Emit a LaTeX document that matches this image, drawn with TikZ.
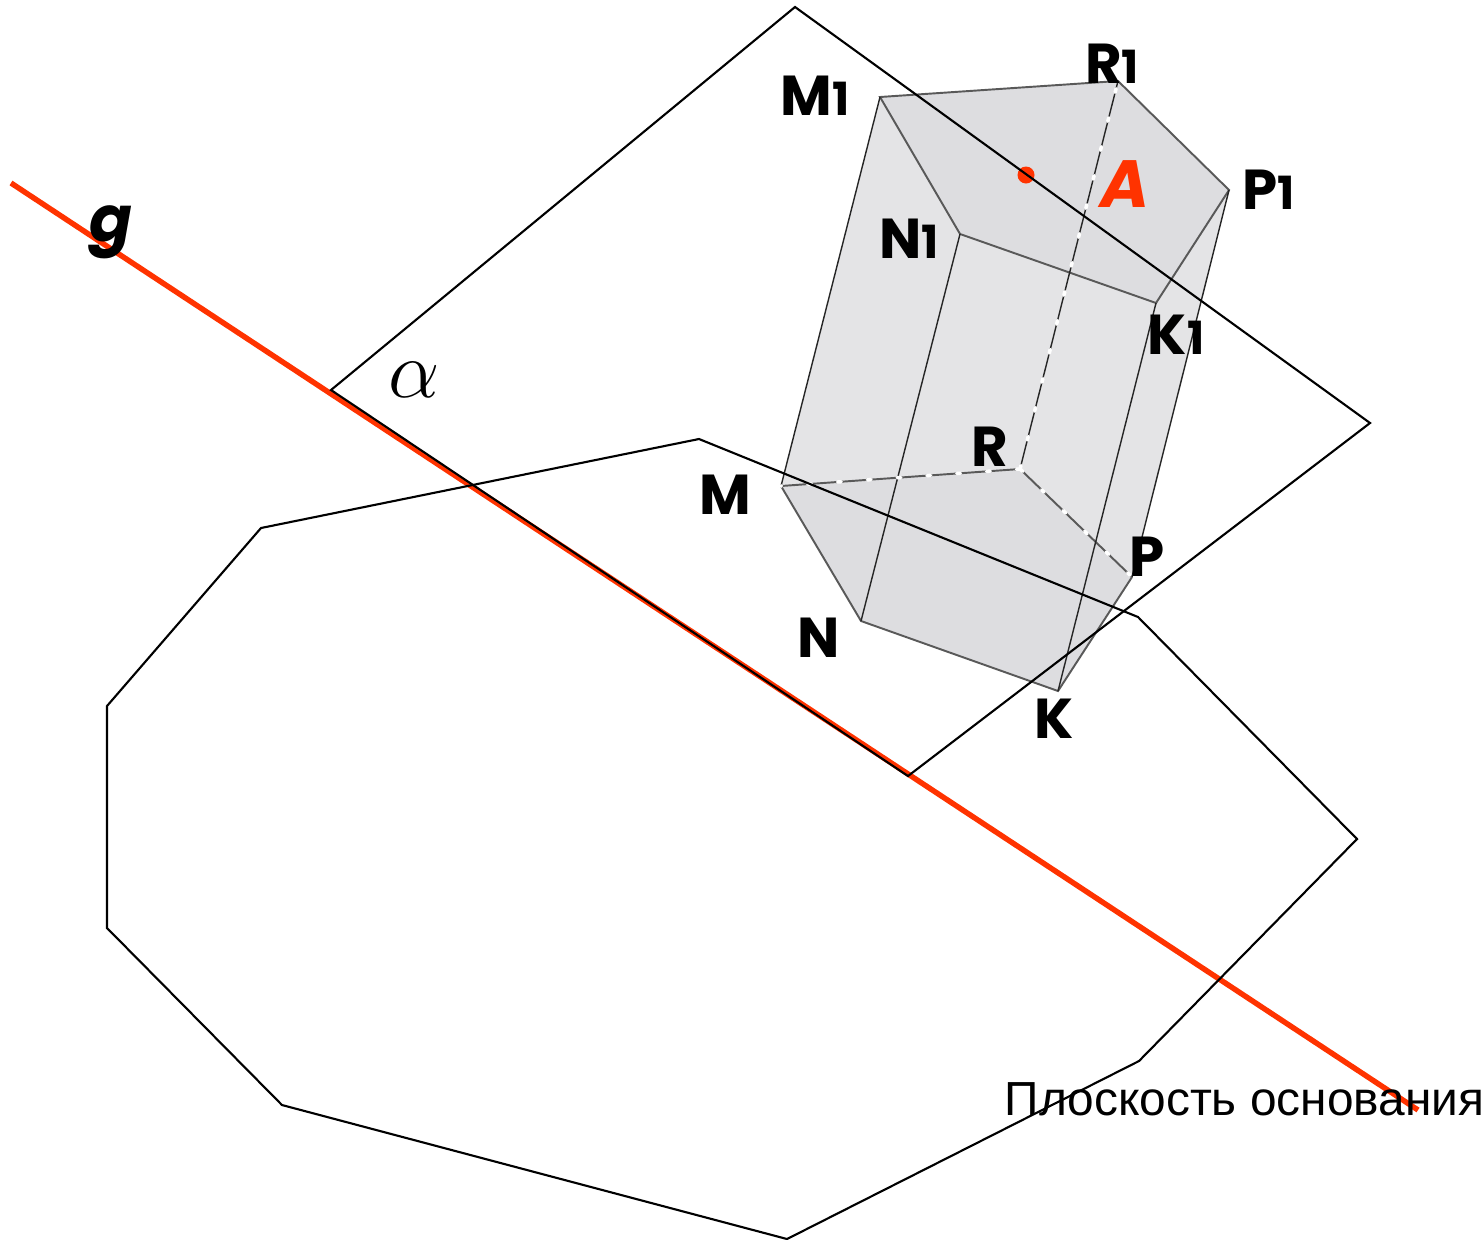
\documentclass[tikz,border=0pt]{standalone}
\usepackage{fontspec}
\setmainfont{Liberation Sans}
\newfontfamily\lblfont{Poppins}
\definecolor{redline}{RGB}{255,51,0}
\definecolor{facedark}{RGB}{221,221,224}
\definecolor{facelight}{RGB}{228,228,230}
\tikzset{
  planeline/.style={black,line width=0.6pt,line join=miter},
  edgeline/.style={black!65,line width=0.55pt},
  sideline/.style={black!85,line width=0.4pt},
  hiddenline/.style={white,line width=1pt,dash pattern=on 1pt off 7.5pt,line cap=round},
  lbl/.style={inner sep=0pt,font=\lblfont\fontsize{16}{16}\selectfont\bfseries},
}
\newcommand{\one}{{\fontsize{13}{13}\selectfont 1}}
\begin{document}
\begin{tikzpicture}[x=0.01cm,y=-0.01cm]
  \useasboundingbox (0,0) rectangle (1483,1239);
  \coordinate (M) at (781,486);
  \coordinate (N) at (861,621);
  \coordinate (K) at (1058,691);
  \coordinate (P) at (1132,577);
  \coordinate (R) at (1020,469);
  \coordinate (M1) at (880,97);
  \coordinate (N1) at (960,234);
  \coordinate (K1) at (1156,303);
  \coordinate (P1) at (1229,190);
  \coordinate (R1) at (1118,81);
  % prism faces
  \fill [facelight] (M) -- (M1) -- (R1) -- (P1) -- (P) -- (K) -- (N) -- cycle;
  \fill [facedark] (M) -- (N) -- (K) -- (P) -- (R) -- cycle;
  \fill [facedark] (M1) -- (N1) -- (K1) -- (P1) -- (R1) -- cycle;
  \draw [edgeline] (M) -- (N) -- (K) -- (P);
  \draw [edgeline] (M1) -- (N1) -- (K1) -- (P1) -- (R1) -- cycle;
  \draw [edgeline] (M) -- (R) -- (P);
  \draw [sideline] (M) -- (M1);
  \draw [sideline] (N) -- (N1);
  \draw [sideline] (K) -- (K1);
  \draw [sideline] (P) -- (P1);
  \draw [sideline] (R) -- (R1);
  % hidden edges
  \draw [hiddenline] (R) -- (R1);
  \draw [hiddenline] (R) -- (M);
  \draw [hiddenline] (R) -- (P);
  % plane and base
  \coordinate (a1) at (331,390);
  \coordinate (a2) at (795,7);
  \coordinate (a3) at (1370,423);
  \coordinate (a4) at (908,776);
  \coordinate (g1) at (11,183);
  \coordinate (g2) at (1418,1110);
  \draw [redline,line width=1.55pt] (g1) -- (g2);
  \fill [redline] (1026,175) circle (8.5);
  \draw [planeline] (a1) -- (a2) -- (a3) -- (a4) -- cycle;
  \draw [planeline] (699,439) -- (1138,617) -- (1357,839) -- (1139,1061) -- (787,1239) -- (282,1105) -- (107,928) -- (107,706) -- (261,528) -- cycle;
  % labels
  \node [lbl] (lM) at (725,495) {M};
  \node [lbl] (lN) at (819,638) {N};
  \node [lbl] (lK) at (1054,719) {K};
  \node [lbl] (lP) at (1147,557) {P};
  \node [lbl] (lR) at (990,447) {R};
  \node [lbl] (lM1) at (815,96) {M\one};
  \node [lbl] (lN1) at (909,239) {N\one};
  \node [lbl] (lK1) at (1176,335) {K\one};
  \node [lbl] (lP1) at (1269,190) {P\one};
  \node [lbl] (lR1) at (1112,64) {R\one};
  \node [lbl,text=redline,font=\lblfont\fontsize{19}{19}\selectfont\bfseries\itshape] (lA) at (1125,184) {A};
  \node [lbl,font=\lblfont\fontsize{18}{18}\selectfont\bfseries\itshape] (lg) at (111,232) {g};
  \node [inner sep=0pt,scale=1.12] (lalpha) at (414,380) {\huge$\alpha$};
  \node [inner sep=0pt,anchor=base west] (lbase) at (1004,1115) {\fontsize{13.6}{13.6}\selectfont Плоскость основания};
\end{tikzpicture}
\end{document}
